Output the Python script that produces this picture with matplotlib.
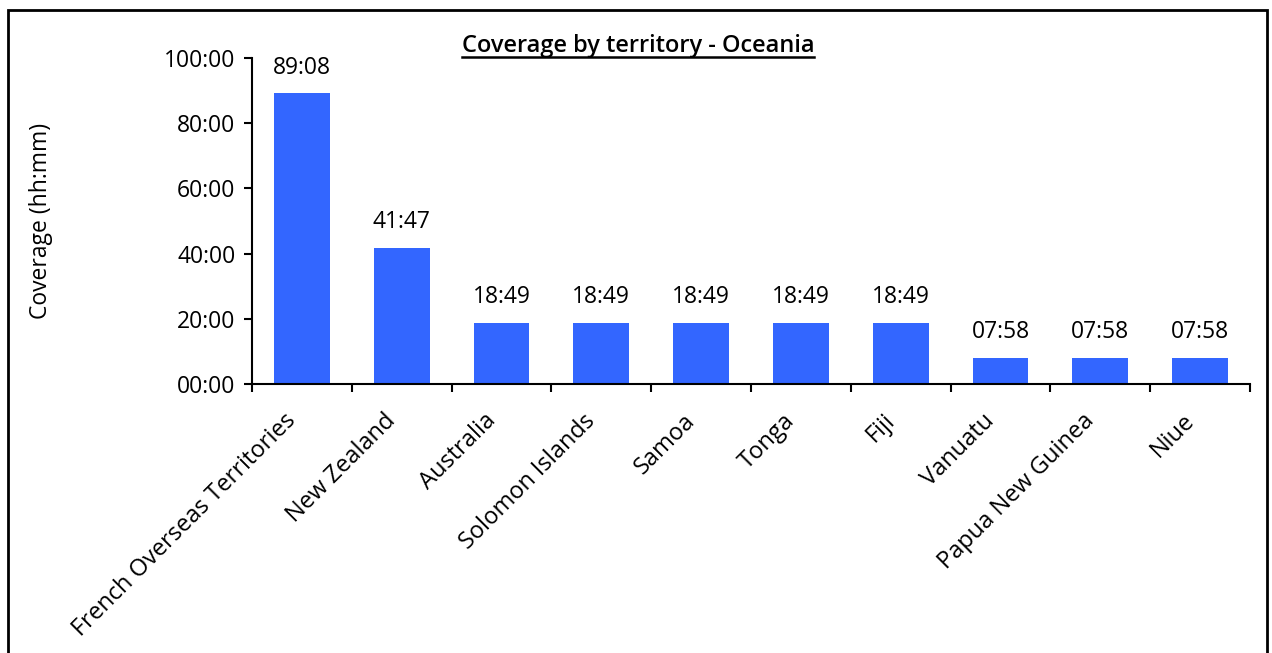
import matplotlib
matplotlib.use("Agg")
import matplotlib.pyplot as plt
from matplotlib.patches import Rectangle
from matplotlib.transforms import ScaledTranslation

plt.rcParams['font.family'] = ['Open Sans', 'DejaVu Sans']

territories = ["French Overseas Territories", "New Zealand", "Australia",
               "Solomon Islands", "Samoa", "Tonga", "Fiji", "Vanuatu",
               "Papua New Guinea", "Niue"]
coverage = ["89:08", "41:47", "18:49", "18:49", "18:49", "18:49", "18:49",
            "07:58", "07:58", "07:58"]
y_ticks = [0, 20, 40, 60, 80, 100]


def to_hours(txt):
    h, m = txt.split(":")
    return int(h) + int(m) / 60.0


hours = [to_hours(c) for c in coverage]

fs = 16.5

fig = plt.figure(figsize=(12.72, 6.53), dpi=100)
ax = fig.add_axes([252 / 1272, 1 - 384 / 653, 998 / 1272, 326 / 653])

x = list(range(len(territories)))
ax.bar(x, hours, width=0.56, color="#3366FF")

for xi, h, lab in zip(x, hours, coverage):
    ax.annotate(lab, (xi, h), xytext=(0, 10), textcoords="offset points",
                ha="center", va="bottom", fontsize=fs)

ax.set_xlim(-0.5, len(territories) - 0.5)
ax.set_ylim(0, 100)
ax.set_yticks(y_ticks)
ax.set_yticklabels([f"{v:02d}:00" for v in y_ticks], fontsize=fs)

# ticks between categories, labels at the centers
ax.set_xticks([i - 0.5 for i in range(len(territories) + 1)])
ax.set_xticklabels([])
ax.set_xticks(x, minor=True)
ax.set_xticklabels(territories, minor=True, rotation=45, ha="right",
                   rotation_mode="anchor", fontsize=17)
ax.tick_params(axis="x", which="minor", length=0, pad=18)
ax.tick_params(axis="x", which="major", length=6, width=1.5, direction="out")
ax.tick_params(axis="y", length=6, width=1.5, direction="out", pad=6)
shift = ScaledTranslation(-18 / 100, 0, fig.dpi_scale_trans)
for lbl in ax.get_xticklabels(minor=True):
    lbl.set_transform(lbl.get_transform() + shift)

for s in ["top", "right"]:
    ax.spines[s].set_visible(False)
for s in ["left", "bottom"]:
    ax.spines[s].set_linewidth(1.5)

ax.set_ylabel("Coverage (hh:mm)", fontsize=fs, labelpad=0)
ax.yaxis.set_label_coords(-0.199, 0.5)

# title with underline
title = fig.text(638 / 1272, 1 - 46 / 653, "Coverage by territory - Oceania",
                 ha="center", va="center", fontsize=17, fontweight="semibold")
fig.canvas.draw()
bb = title.get_window_extent().transformed(fig.transFigure.inverted())
fig.add_artist(plt.Line2D([bb.x0, bb.x1], [bb.y0 + 0.002, bb.y0 + 0.002],
                          transform=fig.transFigure, color="black", lw=1.8))

# outer frame (bottom edge cut off)
fig.add_artist(Rectangle((8 / 1272, -0.1), 1259 / 1272, 1.1 - 10 / 653,
                         transform=fig.transFigure, fill=False,
                         edgecolor="black", lw=2))

fig.savefig("out.png", dpi=100)
